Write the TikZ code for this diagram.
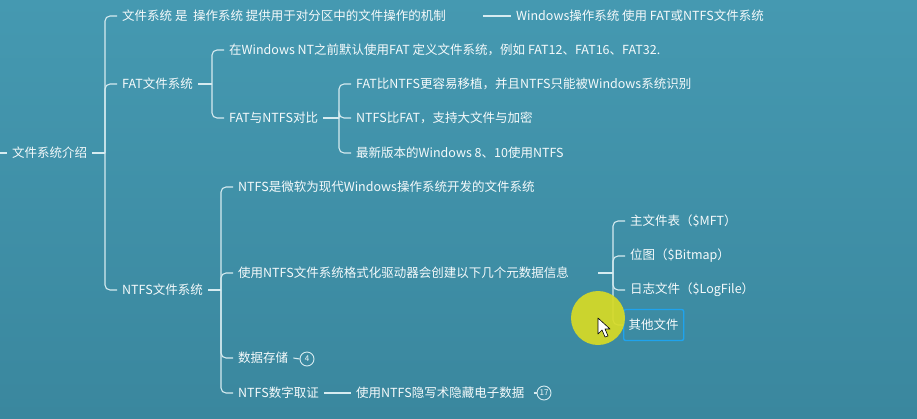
\documentclass[tikz,border=0pt]{standalone}
\usepackage{fontspec}
\setmainfont{Noto Sans CJK SC}
\usetikzlibrary{positioning}
\definecolor{bgtop}{HTML}{4599B1}
\definecolor{bgbot}{HTML}{3A879E}
\definecolor{linec}{HTML}{D6EBF0}
\definecolor{txtc}{HTML}{F5FAFB}
\definecolor{selc}{HTML}{1FA3EE}
\definecolor{hilite}{HTML}{D6DA26}
\tikzset{
  topic/.style={anchor=west,text=txtc,font=\fontsize{12.5}{14}\selectfont,inner xsep=5pt,inner ysep=2pt},
  br/.style={draw=linec,line width=1.1pt,rounded corners=5pt},
  badge/.style={circle,draw=linec,line width=0.9pt,text=txtc,font=\fontsize{8}{9}\selectfont,inner sep=0pt,minimum size=14pt}
}

\begin{document}
\begin{tikzpicture}[x=1pt,y=-1pt]
\shade[top color=bgtop,bottom color=bgbot] (0,0) rectangle (917,418);
\useasboundingbox (0,0) rectangle (917,418);
% root and first level
\node[topic] (root) at (7,153) {文件系统介绍};
\node[topic] (def) at (117,16) {文件系统 是\ \ 操作系统 提供用于对分区中的文件操作的机制};
\node[topic] (win) at (511,16) {Windows操作系统 使用 FAT或NTFS文件系统};
\node[topic] (fat) at (117,84) {FAT文件系统};
\node[topic] (ntfs) at (117,290) {NTFS文件系统};
% FAT branch
\node[topic] (fatold) at (224,50) {在Windows NT之前默认使用FAT 定义文件系统，例如 FAT12、FAT16、FAT32.};
\node[topic] (cmp) at (224,118) {FAT与NTFS对比};
\node[topic] (cmpa) at (351,84) {FAT比NTFS更容易移植，并且NTFS只能被Windows系统识别};
\node[topic] (cmpb) at (351,118) {NTFS比FAT，支持大文件与加密};
\node[topic] (cmpc) at (351,153) {最新版本的Windows 8、10使用NTFS};
% NTFS branch
\node[topic] (ntdef) at (233,187) {NTFS是微软为现代Windows操作系统开发的文件系统};
\node[topic] (meta) at (233,273) {使用NTFS文件系统格式化驱动器会创建以下几个元数据信息};
\node[topic] (store) at (233,358) {数据存储};
\node[topic] (foren) at (233,393) {NTFS数字取证};
\node[topic] (steg) at (351,393) {使用NTFS隐写术隐藏电子数据};
\node[badge] (nstore) at (307,359) {4};
\node[badge] (nsteg) at (544,393) {17};
% metadata files
\node[topic] (mft) at (625,221) {主文件表（\$MFT）};
\node[topic] (bmp) at (625,256) {位图（\$Bitmap）};
\node[topic] (log) at (625,290) {日志文件（\$LogFile）};
\node[topic,draw=selc,line width=1.4pt,rounded corners=2pt,minimum height=31pt] (other) at (623,325) {其他文件};

% connectors
\draw[br] (0,153) -- (root.west);
\draw[br] (root.east) -- (105,153);
\foreach \c in {def,fat,ntfs} \draw[br] (105,153) |- (\c.west);
\draw[br] ([xshift=32pt]def.east) -- (win.west);
\draw[br] (fat.east) -- (212,84);
\foreach \c in {fatold,cmp} \draw[br] (212,84) |- (\c.west);
\draw[br] (cmp.east) -- (339,118);
\foreach \c in {cmpa,cmpb,cmpc} \draw[br] (339,118) |- (\c.west);
\draw[br] (ntfs.east) -- (221,290);
\foreach \c in {ntdef,meta,store,foren} \draw[br] (221,290) |- (\c.west);
\draw[br] ([xshift=24pt]meta.east) -- (613,273);
\foreach \c in {mft,bmp,log,other} \draw[br] (613,273) |- (\c.west);
\draw[br] (store.east) -- (nstore.west);
\draw[br] (foren.east) -- (steg.west);
\draw[br] ([xshift=4pt]steg.east) -- (nsteg.west);

% pointer highlight
\fill[hilite,opacity=0.93] (598,318) circle (27);
\draw[black,fill=white,line width=0.6pt,line join=round] (598,318) -- (598,334) -- (602,330) -- (605,337) -- (608,336) -- (605,329) -- (610,329) -- cycle;
\end{tikzpicture}
\end{document}
